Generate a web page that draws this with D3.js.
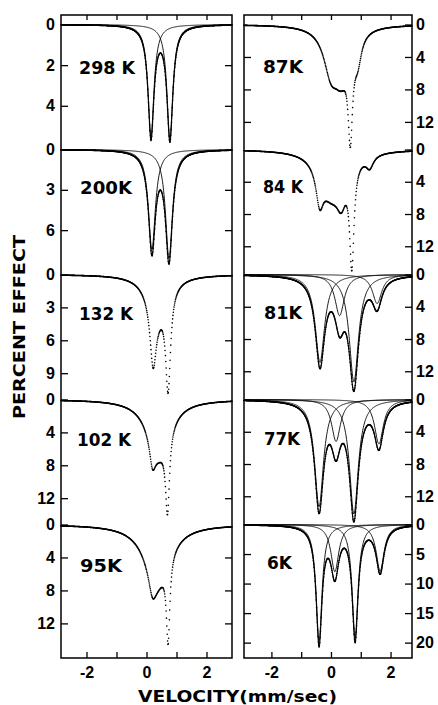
<!DOCTYPE html>
<html>
<head>
<meta charset="utf-8">
<script src="https://cdn.jsdelivr.net/npm/d3@7"></script>
<style>
  body { margin: 0; background: #fff; }
  text { font-family: "Liberation Sans", Arial, sans-serif; font-weight: bold; fill: #000; }
  .title { font-family: "DejaVu Sans", sans-serif; }
</style>
</head>
<body>
<div id="chart"></div>
<script>
// panels, left column top to bottom, then right column
const temps = ['298 K', '200K', '132 K', '102 K', '95K', '87K', '84 K', '81K', '77K', '6K'];
const column = [0, 0, 0, 0, 0, 1, 1, 1, 1, 1];
const row = [0, 1, 2, 3, 4, 0, 1, 2, 3, 4];

// absorption lines: velocity (mm/s), depth (%), half width (mm/s)
const linePos = [
  [0.15, 0.78],
  [0.18, 0.75],
  [0.35, 0.22, 0.72],
  [0.40, 0.20, 0.70],
  [0.35, 0.20, 0.72],
  [0.00, 0.35, 0.65, 0.90],
  [-0.38, 0.00, 0.35, 0.70, 1.30],
  [-0.37, 0.29, 0.77, 1.55],
  [-0.40, 0.17, 0.77, 1.61],
  [-0.40, 0.13, 0.81, 1.65]
];
const lineDepth = [
  [5.5, 5.6],
  [7.45, 8.1],
  [3.0, 5.5, 8.9],
  [6.3, 3.0, 9.5],
  [6.8, 2.5, 10.0],
  [5.0, 5.0, 11.0, 3.0],
  [4.2, 5.0, 3.8, 12.5, 1.5],
  [10.9, 5.1, 13.3, 3.6],
  [13.3, 5.2, 14.2, 5.5],
  [19.8, 8.0, 19.1, 7.9]
];
const lineHW = [
  [0.12, 0.12],
  [0.14, 0.14],
  [0.40, 0.125, 0.10],
  [0.45, 0.12, 0.08],
  [0.50, 0.15, 0.07],
  [0.30, 0.30, 0.09, 0.15],
  [0.15, 0.45, 0.20, 0.09, 0.15],
  [0.19, 0.19, 0.19, 0.19],
  [0.18, 0.18, 0.18, 0.18],
  [0.12, 0.16, 0.12, 0.16]
];
const showFit = [true, true, false, false, false, false, false, true, true, true];

const yTicks = [
  [0, 2, 4], [0, 3, 6], [0, 3, 6, 9], [0, 4, 8, 12], [0, 4, 8, 12],
  [0, 4, 8, 12], [0, 4, 8, 12], [0, 4, 8, 12], [0, 4, 8, 12], [0, 5, 10, 15, 20]
];
const yMax = [6.15, 9.3, 11.4, 15.2, 16.2, 15.4, 15.5, 15.5, 15.5, 22.6];

const xTicks = [-2, -1, 0, 1, 2];
const xTickLabels = [-2, 0, 2];
const xDomains = [[-2.85, 2.85], [-2.92, 2.72]];

// layout
const W = 438, H = 705;
const cols = [{x0: 61, x1: 232}, {x0: 244, x1: 412}];
const frameTop = 15, frameBottom = 658, firstZero = 24.5, rowStep = 125;
const labelX = [79, 80, 79, 77, 80, 263, 263, 264, 264, 267];
const labelY = [74, 194, 320, 446, 572, 73, 193, 319, 445, 569];
const labelW = [56, 52, 54, 54, 42, 40, 40, 38, 36, 25];

const svg = d3.select('#chart').append('svg')
  .attr('width', W)
  .attr('height', H);

const lor = (v, p, d, hw) => d * hw * hw / (hw * hw + (v - p) * (v - p));

temps.forEach((t, i) => {
  const c = cols[column[i]];
  const dom = xDomains[column[i]];
  const x = d3.scaleLinear().domain(dom).range([c.x0, c.x1]);
  const y0 = firstZero + row[i] * rowStep;
  const y1 = row[i] === 4 ? frameBottom : y0 + rowStep;
  const y = d3.scaleLinear().domain([0, yMax[i]]).range([y0, y1]);

  const channels = d3.range(dom[0], dom[1] + 1e-9, 0.012);
  const total = v => d3.sum(linePos[i], (p, k) => lor(v, p, lineDepth[i][k], lineHW[i][k]));

  const g = svg.append('g');

  if (showFit[i]) {
    linePos[i].forEach((p, k) => {
      g.append('path')
        .datum(channels)
        .attr('fill', 'none')
        .attr('stroke', '#000')
        .attr('stroke-width', 0.9)
        .attr('d', d3.line().x(v => x(v)).y(v => y(lor(v, p, lineDepth[i][k], lineHW[i][k]))));
    });
    g.append('path')
      .datum(channels)
      .attr('fill', 'none')
      .attr('stroke', '#000')
      .attr('stroke-width', 1.1)
      .attr('d', d3.line().x(v => x(v)).y(v => y(total(v))));
  }

  g.selectAll('circle')
    .data(channels)
    .join('circle')
      .attr('cx', v => x(v))
      .attr('cy', v => y(total(v)))
      .attr('r', 0.8)
      .attr('fill', '#000');

  // y ticks on both sides, labels on the outer side
  if (column[i] === 0) {
    svg.append('g')
      .attr('transform', `translate(${c.x0},0)`)
      .call(d3.axisLeft(y).tickValues(yTicks[i]).tickFormat(d => d).tickSizeInner(-7).tickSizeOuter(0).tickPadding(6))
      .call(a => a.select('.domain').remove())
      .call(a => a.selectAll('text').attr('font-size', 16).attr('font-family', null));
    svg.append('g')
      .attr('transform', `translate(${c.x1},0)`)
      .call(d3.axisLeft(y).tickValues(yTicks[i].filter(d => d > 0)).tickFormat('').tickSizeInner(7).tickSizeOuter(0))
      .call(a => a.select('.domain').remove());
  } else {
    svg.append('g')
      .attr('transform', `translate(${c.x1},0)`)
      .call(d3.axisRight(y).tickValues(yTicks[i]).tickFormat(d => d).tickSizeInner(-7).tickSizeOuter(0).tickPadding(4))
      .call(a => a.select('.domain').remove())
      .call(a => a.selectAll('text').attr('font-size', 16).attr('font-family', null));
    svg.append('g')
      .attr('transform', `translate(${c.x0},0)`)
      .call(d3.axisRight(y).tickValues(yTicks[i].filter(d => d > 0)).tickFormat('').tickSizeInner(7).tickSizeOuter(0))
      .call(a => a.select('.domain').remove());
  }

  svg.append('text')
    .attr('class', 'title')
    .attr('x', labelX[i])
    .attr('y', labelY[i])
    .attr('font-size', 17)
    .attr('textLength', labelW[i])
    .attr('lengthAdjust', 'spacingAndGlyphs')
    .text(t);
});

// frames and velocity axes
cols.forEach((c, j) => {
  const x = d3.scaleLinear().domain(xDomains[j]).range([c.x0, c.x1]);
  svg.append('g')
    .attr('transform', `translate(0,${frameTop})`)
    .call(d3.axisTop(x).tickValues(xTicks).tickFormat('').tickSizeInner(-5).tickSizeOuter(0))
    .call(a => a.select('.domain').remove());
  svg.append('g')
    .attr('transform', `translate(0,${frameBottom})`)
    .call(d3.axisBottom(x).tickValues(xTicks)
      .tickFormat(d => xTickLabels.includes(d) ? String(d) : '')
      .tickSizeInner(-6).tickSizeOuter(0).tickPadding(9))
    .call(a => a.select('.domain').remove())
    .call(a => a.selectAll('text').attr('font-size', 16).attr('font-family', null));
  svg.append('rect')
    .attr('x', c.x0)
    .attr('y', frameTop)
    .attr('width', c.x1 - c.x0)
    .attr('height', frameBottom - frameTop)
    .attr('fill', 'none')
    .attr('stroke', '#000')
    .attr('stroke-width', 1.5);
});

svg.selectAll('.tick line').attr('stroke-width', 1.3);

svg.append('text')
  .attr('class', 'title')
  .attr('transform', 'translate(25,327) rotate(-90)')
  .attr('text-anchor', 'middle')
  .attr('font-size', 15)
  .attr('textLength', 184)
  .attr('lengthAdjust', 'spacingAndGlyphs')
  .text('PERCENT EFFECT');

svg.append('text')
  .attr('class', 'title')
  .attr('x', 237.5)
  .attr('y', 702)
  .attr('text-anchor', 'middle')
  .attr('font-size', 15)
  .attr('textLength', 199)
  .attr('lengthAdjust', 'spacingAndGlyphs')
  .text('VELOCITY(mm/sec)');
</script>
</body>
</html>
